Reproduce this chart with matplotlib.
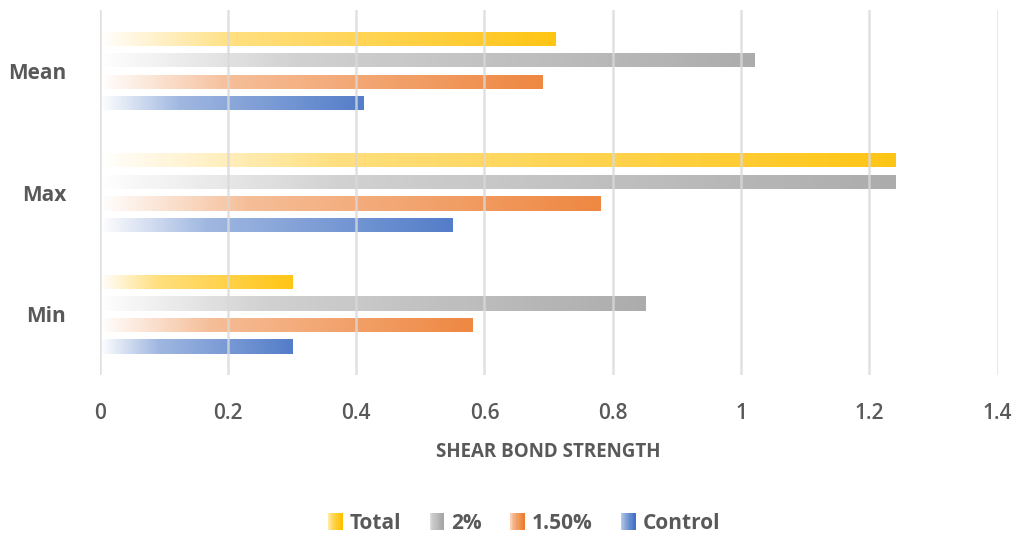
import numpy as np
import matplotlib.pyplot as plt
from matplotlib.colors import LinearSegmentedColormap, to_rgb
from matplotlib.patches import Rectangle
from matplotlib.legend_handler import HandlerBase

# data
categories = ['Min', 'Max', 'Mean']
control = [0.30, 0.55, 0.41]
pct150 = [0.58, 0.78, 0.69]
pct2 = [0.85, 1.24, 1.02]
total = [0.30, 1.24, 0.71]

series_names = ['Control', '1.50%', '2%', 'Total']
series_values = [control, pct150, pct2, total]
series_colors = ['#4472C4', '#ED7D31', '#A5A5A5', '#FFC000']

text_color = '#595959'
plt.rcParams['font.family'] = ['Open Sans', 'DejaVu Sans']


def gradient_cmap(color):
    r, g, b = to_rgb(color)
    mid = [1 - 0.55 * (1 - c) for c in (r, g, b)]
    return LinearSegmentedColormap.from_list(
        'g', [(0, (1.0, 1.0, 1.0)), (0.3, mid), (1, (r, g, b))])


class GradientHandler(HandlerBase):
    def create_artists(self, legend, orig_handle, xdescent, ydescent,
                       width, height, fontsize, trans):
        cmap = gradient_cmap(orig_handle.get_facecolor())
        w = height * 0.95
        x0 = width - w - xdescent
        n = 12
        arts = []
        for i in range(n):
            r = Rectangle((x0 + i * w / n, -ydescent - height * 0.1), w / n + 0.3,
                          height * 1.2, facecolor=cmap(0.2 + 0.8 * i / (n - 1)),
                          edgecolor='none', transform=trans)
            arts.append(r)
        return arts


fig, ax = plt.subplots(figsize=(10.16, 5.38), dpi=100)
fig.subplots_adjust(left=0.098, right=0.982, top=0.981, bottom=0.303)

y = np.arange(len(categories))
step = 0.177
bar_h = 0.118
offsets = [-1.5 * step, -0.5 * step, 0.5 * step, 1.5 * step]

grad = np.linspace(0, 1, 256).reshape(1, -1)
handles = []
for name, vals, col, off in zip(series_names, series_values, series_colors, offsets):
    bars = ax.barh(y + off, vals, height=bar_h, color='none', edgecolor='none',
                   zorder=2)
    cmap = gradient_cmap(col)
    for b in bars:
        x0, y0 = b.get_x(), b.get_y()
        w, h = b.get_width(), b.get_height()
        im = ax.imshow(grad, cmap=cmap, extent=[x0, x0 + w, y0, y0 + h],
                       aspect='auto', origin='lower', zorder=2, alpha=0.92)
        im.set_clip_path(b)
    handles.append(Rectangle((0, 0), 1, 1, facecolor=col, label=name))

ax.set_xlim(0, 1.4)
ax.set_ylim(-0.5, 2.5)
ax.set_xticks(np.arange(0, 1.41, 0.2))
ax.set_xticklabels(['0', '0.2', '0.4', '0.6', '0.8', '1', '1.2', '1.4'],
                   fontweight='semibold')
ax.set_yticks(y)
ax.set_yticklabels(categories, fontweight='bold')
ax.tick_params(axis='x', length=0, colors=text_color, labelsize=15, pad=20)
ax.tick_params(axis='y', length=0, colors=text_color, labelsize=15, pad=24)
ax.grid(axis='x', color='#d9d9d9', linewidth=1.8, zorder=3, alpha=0.8)
ax.set_axisbelow(False)
for s in ax.spines.values():
    s.set_visible(False)

ax.set_xlabel('SHEAR BOND STRENGTH', color=text_color, fontsize=13.5,
              fontweight='bold', labelpad=13)

leg_handles = handles[::-1]
fig.legend(handles=leg_handles, labels=[h.get_label() for h in leg_handles],
           handler_map={Rectangle: GradientHandler()},
           loc='center', bbox_to_anchor=(0.515, 0.027), ncol=4, frameon=False,
           prop={'size': 15, 'weight': 'bold'}, labelcolor=text_color,
           handlelength=0.75, handletextpad=0.35, columnspacing=1.3)

fig.savefig('out.png', dpi=100, facecolor='white')
